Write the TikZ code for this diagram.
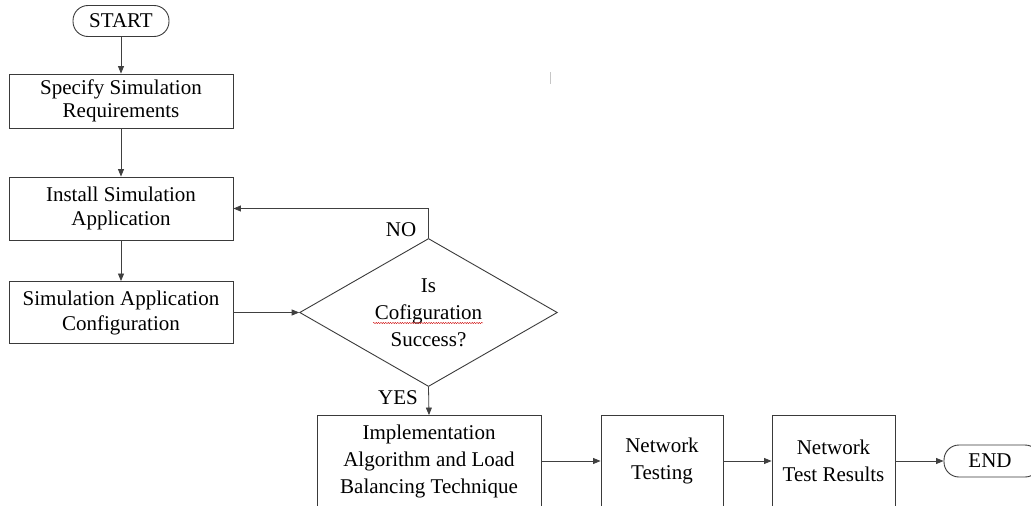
\documentclass[tikz,border=0pt]{standalone}
\usepackage{fontspec}
\setmainfont{Liberation Serif}
\usetikzlibrary{arrows.meta,shapes.geometric,decorations.pathmorphing}
\definecolor{edge}{HTML}{3A3A3A}
\definecolor{wire}{HTML}{404040}
\begin{document}
\begin{tikzpicture}[x=1pt,y=-1pt,
  every node/.style={font=\fontsize{21}{23.5}\selectfont, text=black},
  box/.style={draw=edge, line width=0.9pt, minimum width=224pt, inner sep=0pt, align=center},
  lowbox/.style={draw=edge, line width=0.9pt, minimum height=91pt, inner sep=0pt, align=center,
                 font=\fontsize{21}{27}\selectfont},
  pill/.style={draw=edge, line width=0.9pt, rounded corners=15pt, minimum height=31pt, inner sep=0pt},
  arr/.style={draw=wire, line width=0.8pt, -{Triangle[length=7.5pt,width=6pt]}},
  lbl/.style={inner sep=0pt}]
\useasboundingbox (0,0) rectangle (1031,506);

% left column
\node[pill, minimum width=96pt] (start) at (121,21) {START};
\node[box, minimum height=54pt] (s1) at (121,101) {Specify Simulation\\Requirements};
\node[box, minimum height=63pt] (s2) at (121,208.5) {Install Simulation\\Application};
\node[box, minimum height=62pt, font=\fontsize{21}{25}\selectfont] (s3) at (121,312.5) {Simulation Application\\Configuration};

% decision
\node[diamond, draw=edge, line width=0.9pt, minimum width=257.7pt, minimum height=148pt, inner sep=0pt] (d) at (428.5,312.5) {};
\node[lbl, align=center, font=\fontsize{21}{27}\selectfont] (dt) at (d.center) {Is\\Cofiguration\\Success?};
\draw[red!80!black, line width=0.4pt, decorate, decoration={snake, amplitude=0.6pt, segment length=2.4pt}]
  (373,323) -- (483,323);

% bottom row
\node[lowbox, minimum width=224pt] (b4) at (429,461) {Implementation\\Algorithm and Load\\Balancing Technique};
\node[lowbox, minimum width=122pt] (b5) at (662,461) {Network\\Testing};
\node[lowbox, minimum width=123pt] (b6) at (833.5,461) {Network\\Test Results};
\node[pill, minimum width=96pt, minimum height=32pt] (end) at (992,461) {\hspace*{-4pt}END};

% connectors
\draw[arr] (start) -- (s1);
\draw[arr] (s1) -- (s2);
\draw[arr] (s2) -- (s3);
\draw[arr] (s3.east) -- (d.west);
\draw[arr] (d.north) |- (s2.east);
\draw[arr] (d.south) -- (b4.north);
\draw[arr] (b4) -- (b5);
\draw[arr] (b5) -- (b6);
\draw[arr] (b6) -- (end);

% branch labels
\node[lbl] (no) at (401,230) {NO};
\node[lbl] (yes) at (398,398) {YES};

% small stray tick
\draw[gray!45, line width=0.8pt] (550.5,72) -- (550.5,84);
\end{tikzpicture}
\end{document}
